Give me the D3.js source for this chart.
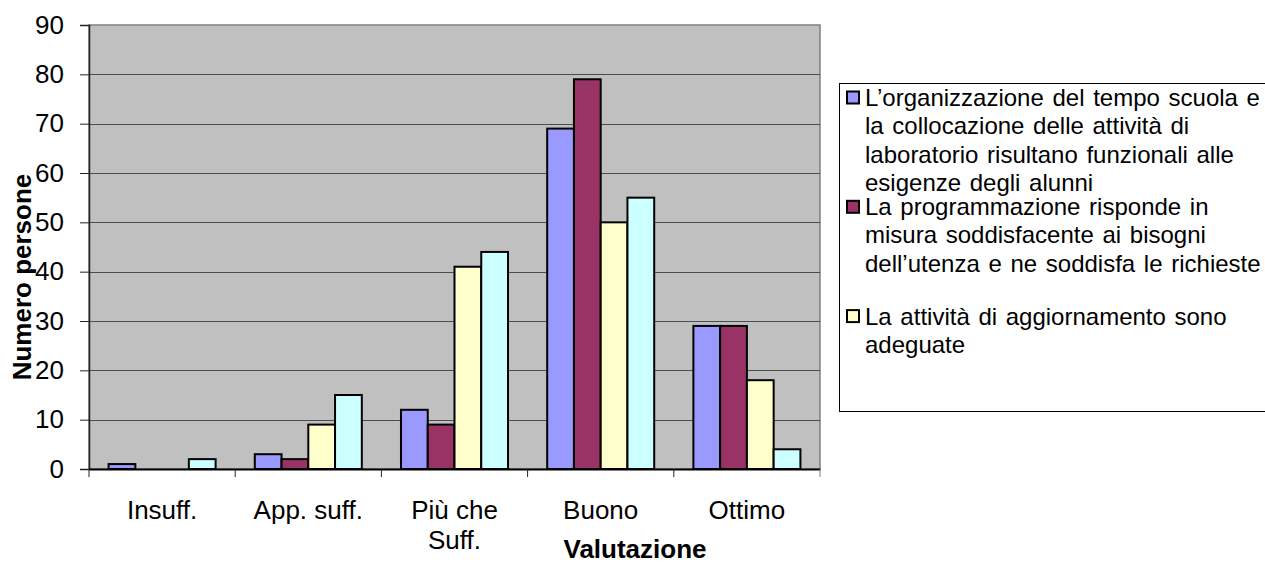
<!DOCTYPE html>
<html>
<head>
<meta charset="utf-8">
<script src="https://cdn.jsdelivr.net/npm/d3@7/dist/d3.min.js"></script>
<style>
  html, body { margin: 0; padding: 0; background: #fff; }
  svg { display: block; font-family: "Liberation Sans", Arial, sans-serif; }
</style>
</head>
<body>
<svg width="1265" height="565"></svg>
<script>
// data
// ----------------------------------
var categories = ['Insuff.', 'App. suff.', 'Più che Suff.', 'Buono', 'Ottimo'];
var categoryLines = [['Insuff.'], ['App. suff.'], ['Più che', 'Suff.'], ['Buono'], ['Ottimo']];

var serieOrganizzazione = [1, 3, 12, 69, 29];
var serieProgrammazione = [0, 2, 9, 79, 29];
var serieAggiornamento = [0, 9, 41, 50, 18];
var serieQuarta = [2, 15, 44, 55, 4];

var seriesColors = ['#9999ff', '#993366', '#ffffcc', '#ccffff'];
var yTicks = [0, 10, 20, 30, 40, 50, 60, 70, 80, 90];

// legend text (only three entries fit inside the box)
var legendLines = [
    ['L\u2019organizzazione del tempo scuola e', 'la collocazione delle attività di', 'laboratorio risultano funzionali alle', 'esigenze degli alunni'],
    ['La programmazione risponde in', 'misura soddisfacente ai bisogni', 'dell\u2019utenza e ne soddisfa le richieste'],
    ['La attività di aggiornamento sono', 'adeguate']
];

var series = [serieOrganizzazione, serieProgrammazione, serieAggiornamento, serieQuarta];

// 0. setup
// ----------------------------------
var svg = d3.select('svg');
var plot = { left: 89, right: 820, top: 25, bottom: 469 };

var x = d3.scaleBand()
    .domain(categories)
    .range([plot.left, plot.right])
    .paddingInner(0.268)
    .paddingOuter(0.134);

var xInner = d3.scaleBand()
    .domain(d3.range(series.length))
    .range([0, x.bandwidth()]);

var y = d3.scaleLinear()
    .domain([0, 90])
    .range([plot.bottom, plot.top]);

// 1. plot area + grid
// ----------------------------------
svg.append('rect')
    .attr('x', plot.left)
    .attr('y', plot.top)
    .attr('width', plot.right - plot.left)
    .attr('height', plot.bottom - plot.top)
    .style('fill', '#c0c0c0')
    .style('stroke', '#808080')
    .style('stroke-width', 1.5);

svg.append('g').classed('grid', true)
    .selectAll('line')
    .data(yTicks.filter(d => d > 0 && d < 90))
    .enter().append('line')
    .attr('x1', plot.left)
    .attr('x2', plot.right)
    .attr('y1', d => Math.round(y(d)) + 0.5)
    .attr('y2', d => Math.round(y(d)) + 0.5)
    .style('stroke', '#4d4d4d')
    .style('stroke-width', 1);

// 2. bars
// ----------------------------------
var barData = [];
series.forEach(function (s, i) {
    s.forEach(function (v, j) {
        if (v > 0) barData.push({ serie: i, cat: categories[j], value: v });
    });
});

svg.append('g').classed('bars', true)
    .selectAll('rect')
    .data(barData)
    .enter().append('rect')
    .attr('x', d => x(d.cat) + xInner(d.serie))
    .attr('y', d => y(d.value))
    .attr('width', xInner.bandwidth())
    .attr('height', d => y(0) - y(d.value))
    .style('fill', d => seriesColors[d.serie])
    .style('stroke', '#000')
    .style('stroke-width', 2);

// 3. axes
// ----------------------------------
var yAxis = svg.append('g')
    .attr('transform', 'translate(' + plot.left + ',0)')
    .call(d3.axisLeft(y).tickValues(yTicks).tickSize(9).tickPadding(16));
yAxis.select('.domain').style('stroke', '#222').style('stroke-width', 1.5);
yAxis.selectAll('.tick line').style('stroke', '#222');
yAxis.selectAll('.tick text')
    .style('font-size', '26px')
    .style('font-family', '"Liberation Sans", Arial, sans-serif')
    .style('fill', '#000');

var xAxis = svg.append('g')
    .attr('transform', 'translate(0,' + plot.bottom + ')')
    .call(d3.axisBottom(x).tickSize(0).tickFormat(''));
xAxis.select('.domain').style('stroke', '#000').style('stroke-width', 2);

// tick marks sit on category boundaries
svg.append('g').selectAll('line')
    .data(d3.range(categories.length + 1))
    .enter().append('line')
    .attr('x1', i => plot.left + i * x.step())
    .attr('x2', i => plot.left + i * x.step())
    .attr('y1', plot.bottom)
    .attr('y2', plot.bottom + 8)
    .style('stroke', i => i === categories.length ? '#808080' : '#222')
    .style('stroke-width', 1);

var catLabels = svg.append('g').selectAll('text')
    .data(categories)
    .enter().append('text')
    .attr('x', d => x(d) + x.bandwidth() / 2)
    .attr('y', 519)
    .attr('text-anchor', 'middle')
    .style('font-size', '26px');

catLabels.selectAll('tspan')
    .data((d, i) => categoryLines[i])
    .enter().append('tspan')
    .attr('x', function () { return d3.select(this.parentNode).attr('x'); })
    .attr('dy', (d, i) => i === 0 ? 0 : 30)
    .text(d => d);

// axis titles
svg.append('text')
    .attr('x', 635)
    .attr('y', 558)
    .attr('text-anchor', 'middle')
    .style('font-size', '26px')
    .style('font-weight', 'bold')
    .text('Valutazione');

svg.append('text')
    .attr('transform', 'translate(31,277) rotate(-90)')
    .attr('text-anchor', 'middle')
    .style('font-size', '26px')
    .style('font-weight', 'bold')
    .text('Numero persone');

// 4. legend
// ----------------------------------
var legendBox = { x: 839, y: 83, w: 440, h: 328 };

svg.append('clipPath')
    .attr('id', 'legend-clip')
    .append('rect')
    .attr('x', legendBox.x)
    .attr('y', legendBox.y)
    .attr('width', legendBox.w)
    .attr('height', legendBox.h);

svg.append('rect')
    .attr('x', legendBox.x + 0.5)
    .attr('y', legendBox.y + 0.5)
    .attr('width', legendBox.w)
    .attr('height', legendBox.h)
    .style('fill', '#fff')
    .style('stroke', '#000')
    .style('stroke-width', 1);

var legend = svg.append('g')
    .attr('clip-path', 'url(#legend-clip)');

var entry = legend.selectAll('g')
    .data(legendLines)
    .enter().append('g')
    .attr('transform', (d, i) => 'translate(0,' + (97.5 + i * 109.3) + ')');

entry.append('rect')
    .attr('x', 847)
    .attr('y', -6)
    .attr('width', 12)
    .attr('height', 12)
    .style('fill', (d, i) => seriesColors[i])
    .style('stroke', '#000')
    .style('stroke-width', 2);

entry.selectAll('text')
    .data(d => d)
    .enter().append('text')
    .attr('x', 865)
    .attr('y', (d, i) => i * 28.3)
    .attr('dy', '0.35em')
    .style('font-size', '24px')
    .style('word-spacing', '2px')
    .text(d => d);
</script>
</body>
</html>
